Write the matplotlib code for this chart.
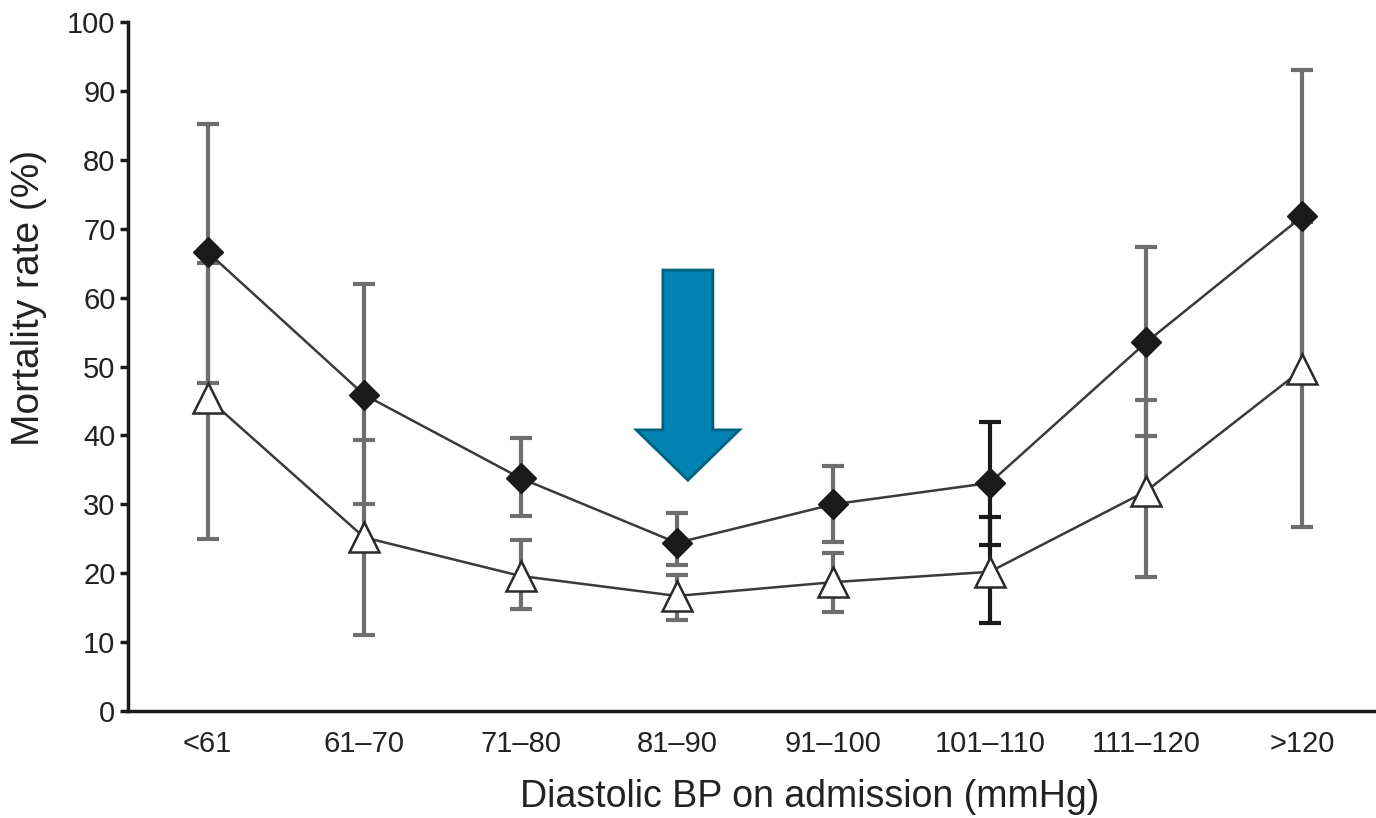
import numpy as np
import matplotlib.pyplot as plt
import matplotlib.patches as mpatches
from matplotlib import font_manager

# data
groups = ['<61', '61\u201370', '71\u201380', '81\u201390', '91\u2013100', '101\u2013110', '111\u2013120', '>120']
filled = [66.6, 45.9, 33.8, 24.4, 30.0, 33.1, 53.5, 71.8]
filled_lo = [47.6, 30.0, 28.3, 21.2, 24.5, 24.1, 39.9, 48.5]
filled_hi = [85.2, 62.0, 39.6, 28.7, 35.6, 41.9, 67.3, 93.1]
open_ = [45.4, 25.2, 19.6, 16.7, 18.7, 20.2, 31.9, 49.6]
open_lo = [25.0, 11.0, 14.8, 13.2, 14.4, 12.8, 19.4, 26.7]
open_hi = [65.0, 39.3, 24.8, 19.7, 22.9, 28.2, 45.1, 71.0]

names = [f.name for f in font_manager.fontManager.ttflist]
fam = 'Liberation Sans Narrow' if 'Liberation Sans Narrow' in names else 'Liberation Sans'
plt.rcParams['font.family'] = [fam, 'DejaVu Sans']

fig = plt.figure(figsize=(13.76, 8.18), dpi=100)
ax = fig.add_axes([0.093, 0.1308, 0.907, 0.8423])

x = np.arange(len(groups))
gray = '#6e6e6e'
bar_col = [gray, gray, gray, gray, gray, '#1a1a1a', gray, gray]

for i in x:
    ax.errorbar(x[i], filled[i], yerr=[[filled[i] - filled_lo[i]], [filled_hi[i] - filled[i]]],
                fmt='none', ecolor=bar_col[i], elinewidth=3, capsize=8, capthick=3, zorder=2)
    ax.errorbar(x[i], open_[i], yerr=[[open_[i] - open_lo[i]], [open_hi[i] - open_[i]]],
                fmt='none', ecolor=bar_col[i], elinewidth=3, capsize=8, capthick=3, zorder=2)

ax.plot(x, filled, color='#3a3a3a', lw=1.8, marker='D', ms=15, mfc='#1a1a1a', mec='#1a1a1a', zorder=4)
ax.plot(x, open_, color='#3a3a3a', lw=1.8, marker='^', ms=21, mfc='white', mec='#2a2a2a', mew=1.8, zorder=4)

arrow = mpatches.FancyArrow(3.07, 64.0, 0, -30.5, width=0.32, head_width=0.66, head_length=7.3,
                            length_includes_head=True, facecolor='#0082b2', edgecolor='#00607f', lw=2, zorder=5)
ax.add_patch(arrow)

ax.set_xlim(-0.51, 7.47)
ax.set_ylim(0, 100)
ax.set_yticks(np.arange(0, 101, 10))
ax.set_xticks(x)
ax.set_xticklabels(groups)

for s in ['top', 'right']:
    ax.spines[s].set_visible(False)
for s in ['left', 'bottom']:
    ax.spines[s].set_linewidth(2.5)
    ax.spines[s].set_color('#1a1a1a')

ax.tick_params(axis='y', length=6, width=2.5, pad=3, labelsize=21, labelcolor='#222222', color='#1a1a1a')
ax.tick_params(axis='x', length=0, pad=14, labelsize=21, labelcolor='#222222')

ax.set_ylabel('Mortality rate (%)', fontsize=28, color='#222222')
ax.yaxis.set_label_coords(-0.065, 0.6)
ax.set_xlabel('Diastolic BP on admission (mmHg)', fontsize=27, color='#222222')
ax.xaxis.set_label_coords(0.546, -0.098)

fig.savefig('out.png', dpi=100)
